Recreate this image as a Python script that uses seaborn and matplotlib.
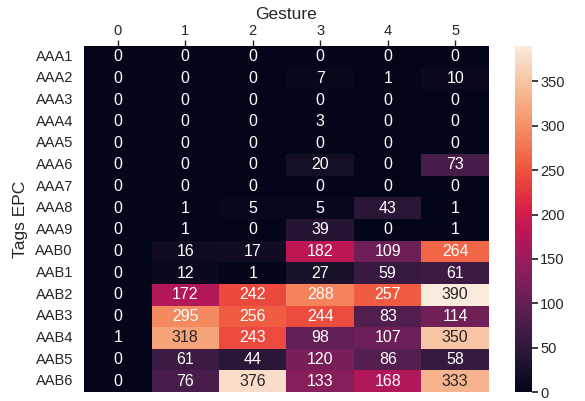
import numpy as np
import pandas as pd
import matplotlib
matplotlib.use("Agg")
import matplotlib.pyplot as plt
import seaborn as sns

tags = ["AAA1", "AAA2", "AAA3", "AAA4", "AAA5", "AAA6", "AAA7", "AAA8",
        "AAA9", "AAB0", "AAB1", "AAB2", "AAB3", "AAB4", "AAB5", "AAB6"]
gestures = [0, 1, 2, 3, 4, 5]

gesture_0 = [0, 0, 0, 0, 0, 0, 0, 0, 0, 0, 0, 0, 0, 1, 0, 0]
gesture_1 = [0, 0, 0, 0, 0, 0, 0, 1, 1, 16, 12, 172, 295, 318, 61, 76]
gesture_2 = [0, 0, 0, 0, 0, 0, 0, 5, 0, 17, 1, 242, 256, 243, 44, 376]
gesture_3 = [0, 7, 0, 3, 0, 20, 0, 5, 39, 182, 27, 288, 244, 98, 120, 133]
gesture_4 = [0, 1, 0, 0, 0, 0, 0, 43, 0, 109, 59, 257, 83, 107, 86, 168]
gesture_5 = [0, 10, 0, 0, 0, 73, 0, 1, 1, 264, 61, 390, 114, 350, 58, 333]

counts = pd.DataFrame(
    np.column_stack([gesture_0, gesture_1, gesture_2, gesture_3, gesture_4, gesture_5]),
    index=pd.Index(tags, name="Tags EPC"),
    columns=pd.Index(gestures, name="Gesture"),
)

sns.set_theme(style="ticks")
plt.rcParams["font.family"] = ["Liberation Sans", "DejaVu Sans"]

fig = plt.figure(figsize=(5.85, 4.01), dpi=100)
W, H = 585, 401
ax = fig.add_axes([84 / W, 1 - 392 / H, 405 / W, 346 / H])
cax = fig.add_axes([515 / W, 1 - 392 / H, 17 / W, 346 / H])

sns.heatmap(counts, ax=ax, cbar_ax=cax, annot=True, fmt="d",
            annot_kws={"fontsize": 11.5}, vmin=0)

ax.xaxis.tick_top()
ax.xaxis.set_label_position("top")
ax.tick_params(axis="x", labelsize=10.5, length=4.5, width=1, pad=1.5, colors=".15")
ax.tick_params(axis="y", labelsize=10.5, length=0, pad=8, rotation=0)
ax.set_xlabel("Gesture", fontsize=12.5, labelpad=3.5)
ax.set_ylabel("Tags EPC", fontsize=12.5, labelpad=5)

cax.tick_params(labelsize=10.5, length=4, pad=2)
cax.set_yticks([0, 50, 100, 150, 200, 250, 300, 350])

fig.savefig("out.png", dpi=100)
